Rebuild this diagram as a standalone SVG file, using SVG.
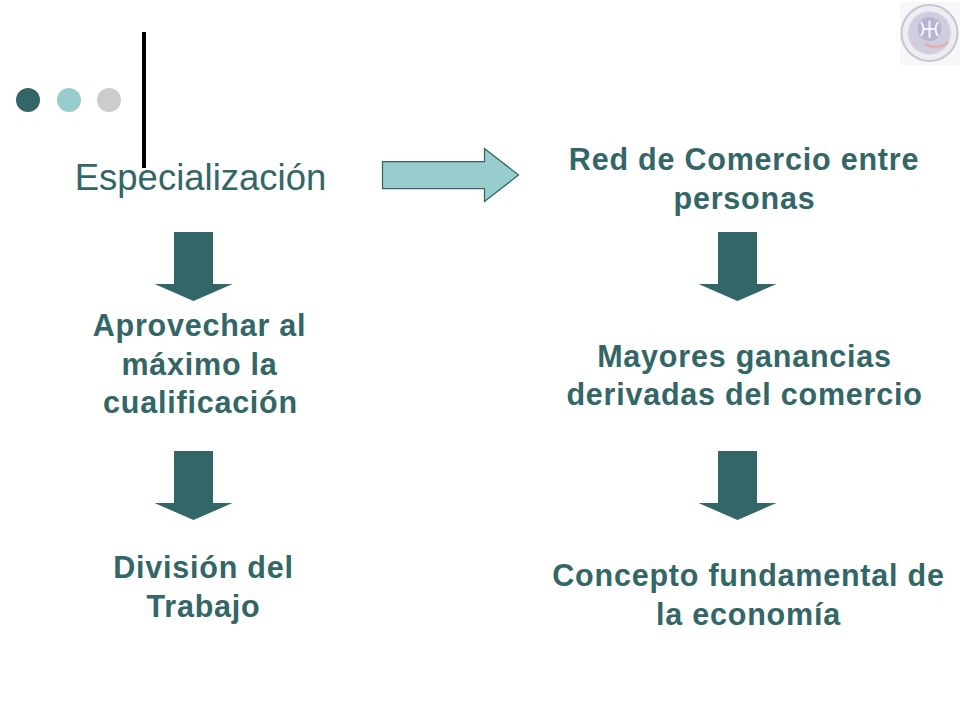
<svg xmlns="http://www.w3.org/2000/svg" width="960" height="720" viewBox="0 0 960 720">
<style>
.t{font-family:"Liberation Sans",Arial,sans-serif;font-weight:700;font-size:30.500px;fill:#336666;text-anchor:middle;letter-spacing:.78px}
.d{fill:#336666}
</style>
<defs><polygon id="da" class="d" points="174,232 213,232 213,284 232.500,284 193.500,301 154.500,284 174,284"/></defs>
<rect width="960" height="720" fill="#fff"/>
<g id="logo">
<rect x="900" y="2" width="60" height="63" fill="#f7f7fa"/>
<circle cx="929.500" cy="33" r="28" fill="#eeeef2" stroke="#c4c6d2" stroke-width="2"/>
<circle cx="929.500" cy="33" r="21.500" fill="#d0cde0" stroke="#dfe0e8" stroke-width="1"/>
<circle cx="929.500" cy="29" r="12" fill="#b9b3d2"/>
<path d="M925 44Q938 51 948 42" fill="none" stroke="#e3b0b4" stroke-width="3"/>
<path d="M921 22Q926 29 921 36M938 22Q933 29 938 36M923 29H936M929.500 21V38" fill="none" stroke="#f6f6fa" stroke-width="2"/>
</g>
<g id="decor">
<circle cx="28" cy="100" r="12" fill="#336666"/>
<circle cx="69" cy="100" r="12" fill="#99cccc"/>
<circle cx="109" cy="100" r="12" fill="#cccccc"/>
<rect x="142" y="32" width="4" height="136" fill="#000"/>
</g>
<g id="connectors">
<polygon points="382.500,161.500 484.500,161.500 484.500,148.500 518.500,175 484.500,201.500 484.500,188.500 382.500,188.500" fill="#99cccc" stroke="#336666" stroke-width="1.250"/>
<use href="#da"/>
<use href="#da" y="219"/>
<use href="#da" x="544"/>
<use href="#da" x="544" y="219"/>
</g>
<g id="n1"><text x="200.500" y="190" font-family="Liberation Sans,Arial,sans-serif" font-size="36.500" fill="#336666" text-anchor="middle">Especialización</text></g>
<g id="n2"><text class="t" x="744" y="169.500">Red de Comercio entre</text><text class="t" x="744.500" y="208.500">personas</text></g>
<g id="n3"><text class="t" x="199.500" y="335.500">Aprovechar al</text><text class="t" x="199.500" y="374.500">máximo la</text><text class="t" x="200.500" y="412.500">cualificación</text></g>
<g id="n4"><text class="t" x="744.500" y="366.500">Mayores ganancias</text><text class="t" x="744.500" y="404.500">derivadas del comercio</text></g>
<g id="n5"><text class="t" x="203.500" y="577.500">División del</text><text class="t" x="203.500" y="616.500">Trabajo</text></g>
<g id="n6"><text class="t" x="748.500" y="585.500">Concepto fundamental de</text><text class="t" x="748.500" y="624.500">la economía</text></g>
</svg>
